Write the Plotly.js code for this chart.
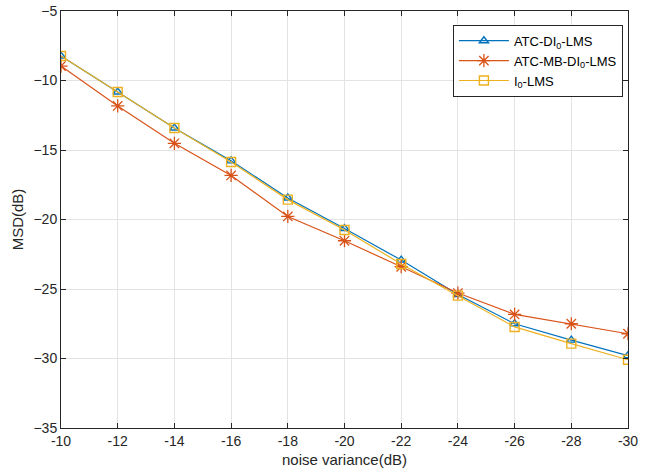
<!DOCTYPE html>
<html>
<head>
<meta charset="utf-8">
<script src="https://cdn.plot.ly/plotly-3.0.1.min.js"></script>
<style>html,body{margin:0;padding:0;background:#fff;}#chart{width:646px;height:471px;}</style>
</head>
<body>
<div id="chart"></div>
<script>
var noiseVar = [-10, -12, -14, -16, -18, -20, -22, -24, -26, -28, -30];
var atcDI0 = [-8.24, -10.83, -13.42, -15.78, -18.45, -20.65, -22.92, -25.40, -27.50, -28.68, -29.80];
var atcMBDI0 = [-8.96, -11.83, -14.52, -16.83, -19.78, -21.53, -23.40, -25.29, -26.83, -27.50, -28.22];
var l0LMS = [-8.24, -10.83, -13.42, -15.86, -18.57, -20.75, -23.20, -25.48, -27.73, -28.93, -30.09];
var seriesNames = ['ATC-DI<sub>0</sub>-LMS', 'ATC-MB-DI<sub>0</sub>-LMS', 'I<sub>0</sub>-LMS'];
var xTicks = [-10, -12, -14, -16, -18, -20, -22, -24, -26, -28, -30];

var FONT = 'Liberation Sans, Arial, sans-serif';

var traces = [
  {x: noiseVar, y: atcDI0, name: seriesNames[0], mode: 'lines+markers',
   line: {color: '#0072BD', width: 1.2},
   marker: {symbol: 'triangle-up-open', size: 8, color: '#0072BD', line: {width: 1.4}}},
  {x: noiseVar, y: atcMBDI0, name: seriesNames[1], mode: 'lines+markers',
   line: {color: '#D95319', width: 1.2},
   marker: {symbol: 'asterisk-open', size: 11, color: '#D95319', line: {width: 1.3, color: '#D95319'}}},
  {x: noiseVar, y: l0LMS, name: seriesNames[2], mode: 'lines+markers',
   line: {color: '#EDB120', width: 1.2},
   marker: {symbol: 'square-open', size: 9, color: '#EDB120', line: {width: 1.4}}}
];

var axisCommon = {
  showline: true, linecolor: '#262626', linewidth: 1, mirror: 'ticks',
  ticks: 'inside', ticklen: 5, tickcolor: '#262626', tickwidth: 1,
  showgrid: true, gridcolor: '#e3e3e3', gridwidth: 1, zeroline: false,
  tickfont: {family: FONT, size: 14, color: '#262626'}
};

var layout = {
  width: 646, height: 471,
  margin: {l: 61, r: 18, t: 11, b: 43},
  paper_bgcolor: '#ffffff', plot_bgcolor: '#ffffff',
  showlegend: true,
  xaxis: Object.assign({}, axisCommon, {
    range: [-10, -30], tickmode: 'array', tickvals: xTicks, ticktext: xTicks.map(String),
    title: {text: 'noise variance(dB)', standoff: 6, font: {family: FONT, size: 15, color: '#262626'}}
  }),
  yaxis: Object.assign({}, axisCommon, {
    range: [-35, -5], dtick: 5, tick0: -35,
    title: {text: 'MSD(dB)', standoff: 6, font: {family: FONT, size: 15, color: '#262626'}}
  }),
  legend: {
    x: 0.991, xanchor: 'right', y: 0.967, yanchor: 'top',
    bgcolor: '#ffffff', bordercolor: '#262626', borderwidth: 1,
    font: {family: FONT, size: 13, color: '#000'},
    tracegroupgap: 0, itemwidth: 50
  }
};

Plotly.newPlot('chart', traces, layout, {displayModeBar: false, staticPlot: true});
</script>
</body>
</html>
